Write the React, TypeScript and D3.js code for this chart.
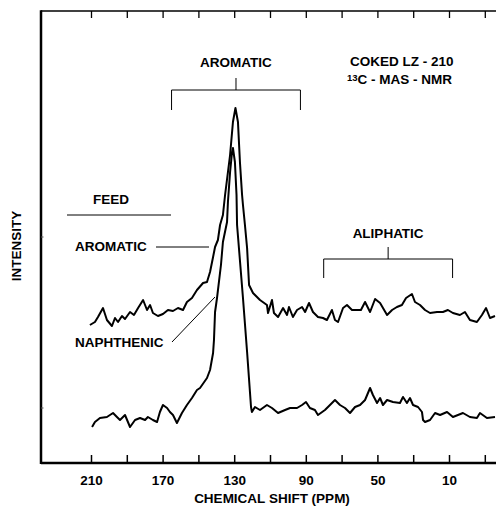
import React, { useEffect, useRef } from "react";
import * as d3 from "d3";

// chemical shift (ppm) and intensity (arbitrary units)
const feedShift = [210.6, 207.8, 206.1, 203.3, 201.1, 198.3, 196.6, 194.9, 192.7, 191.0, 188.2, 186.0, 183.7, 180.9, 178.7, 177.0, 175.4, 172.6, 169.8, 167.0, 164.2, 161.4, 158.6, 156.4, 153.6, 150.8, 147.4, 145.2, 143.5, 141.8, 140.7, 139.1, 137.9, 136.3, 135.1, 132.3, 130.7, 129.3, 127.9, 126.8, 125.6, 125.1, 124.0, 122.8, 121.7, 119.5, 115.6, 111.7, 111.1, 108.9, 107.8, 105.5, 102.7, 100.5, 99.4, 97.2, 94.9, 92.1, 90.4, 88.2, 86.0, 83.2, 80.4, 78.2, 75.4, 73.7, 72.0, 69.2, 67.0, 64.2, 61.4, 59.2, 56.9, 54.1, 51.3, 48.5, 44.6, 41.8, 39.1, 36.3, 34.0, 30.7, 29.0, 26.2, 23.4, 20.6, 16.7, 13.4, 10.6, 7.8, 3.9, 1.1, -1.7, -5.6, -8.4, -10.7, -12.9, -15.7];
const feedIntensity = [138, 141, 146, 155, 143, 137, 145, 141, 147, 144, 151, 148, 155, 163, 153, 158, 150, 147, 149, 153, 152, 155, 153, 161, 165, 173, 180, 181, 191, 206, 216, 223, 238, 248, 268, 308, 341, 355, 341, 301, 268, 258, 238, 215, 178, 170, 163, 158, 150, 163, 150, 146, 155, 148, 156, 146, 153, 156, 151, 160, 151, 146, 145, 143, 153, 143, 141, 155, 158, 153, 153, 153, 161, 151, 164, 160, 148, 153, 156, 158, 165, 169, 161, 158, 153, 150, 151, 151, 153, 150, 148, 151, 143, 141, 148, 155, 145, 147];

const cokedShift = [209.4, 207.8, 205.0, 201.1, 197.7, 195.5, 193.8, 191.0, 188.2, 185.4, 182.6, 179.8, 178.2, 175.4, 173.1, 171.5, 169.8, 167.5, 165.9, 164.2, 162.0, 159.2, 156.4, 153.6, 150.8, 149.1, 145.2, 143.5, 141.8, 141.3, 140.7, 139.6, 137.4, 136.3, 134.0, 133.5, 132.3, 131.2, 130.7, 129.6, 128.7, 128.4, 125.1, 122.8, 121.2, 120.6, 120.1, 118.4, 115.6, 111.7, 108.9, 105.5, 101.6, 98.8, 94.9, 92.1, 89.9, 87.7, 84.9, 83.2, 79.3, 76.5, 73.7, 70.9, 68.1, 65.3, 62.5, 59.7, 56.9, 54.1, 52.5, 50.2, 48.5, 46.9, 44.6, 41.3, 37.4, 35.7, 33.5, 31.8, 30.1, 27.3, 25.1, 24.5, 23.4, 20.6, 17.8, 15.0, 11.1, 7.8, 5.0, 2.2, -1.7, -5.6, -7.3, -11.2, -15.7];
const cokedIntensity = [36, 41, 45, 46, 50, 46, 43, 48, 36, 43, 45, 43, 46, 43, 41, 51, 58, 55, 51, 48, 40, 50, 58, 65, 73, 75, 85, 93, 110, 123, 151, 165, 198, 221, 241, 261, 291, 311, 315, 301, 268, 238, 165, 111, 71, 56, 51, 56, 53, 58, 55, 50, 53, 55, 55, 58, 61, 55, 53, 48, 53, 58, 63, 58, 55, 50, 56, 58, 63, 75, 68, 60, 65, 58, 63, 61, 60, 66, 60, 65, 58, 56, 51, 43, 41, 43, 50, 48, 51, 46, 48, 50, 46, 45, 50, 45, 46];

const tickValues = [210, 190, 170, 150, 130, 110, 90, 70, 50, 30, 10, -10];
const tickLabels = ["210", "170", "130", "90", "50", "10"];

// bracket spans (ppm)
const aromaticSpan = [165, 93];
const aliphaticSpan = [80, 8];

const FONT = "'Liberation Sans', Arial, Helvetica, sans-serif";
const SIZE = "13.5px";

const App = () => {
  const ref = useRef(null);

  useEffect(() => {
    d3.select(ref.current).selectAll("*").remove();

    const width = 496;
    const height = 506;
    const left = 41;
    const top = 11;
    const bottom = 463;

    const x = d3.scaleLinear().domain([210, 10]).range([91, 449]);
    const y = d3.scaleLinear().domain([0, 452]).range([bottom, top]);

    const svg = d3
      .select(ref.current)
      .attr("width", width)
      .attr("height", height)
      .style("position", "absolute")
      .style("left", "0px")
      .style("top", "0px")
      .style("background", "#fff");

    // bottom axis
    const bottomAxis = d3
      .axisBottom(x)
      .tickValues(tickValues)
      .tickSize(-8)
      .tickPadding(12)
      .tickFormat((d) => (tickLabels.includes(String(d)) ? String(d) : ""));
    const gb = svg.append("g").attr("transform", `translate(0,${bottom})`).call(bottomAxis);
    gb.select(".domain").remove();
    gb.selectAll(".tick line").attr("stroke", "#000").attr("stroke-width", 1.5);
    gb.selectAll(".tick text")
      .attr("fill", "#000")
      .style("font-family", FONT)
      .style("font-size", SIZE)
      .style("font-weight", "bold");

    // top axis, ticks only
    const topAxis = d3.axisTop(x).tickValues(tickValues).tickSize(-7).tickFormat(() => "");
    const gt = svg.append("g").attr("transform", `translate(0,${top})`).call(topAxis);
    gt.select(".domain").remove();
    gt.selectAll(".tick line").attr("stroke", "#000").attr("stroke-width", 1.3);

    // frame
    svg.append("line").attr("x1", left).attr("x2", width).attr("y1", top).attr("y2", top)
      .attr("stroke", "#000").attr("stroke-width", 1.5);
    svg.append("line").attr("x1", left).attr("x2", width).attr("y1", bottom).attr("y2", bottom)
      .attr("stroke", "#000").attr("stroke-width", 2.5);
    svg.append("line").attr("x1", left).attr("x2", left).attr("y1", top - 0.75).attr("y2", bottom + 1)
      .attr("stroke", "#000").attr("stroke-width", 2.5);
    [237, 408].forEach((ty) => {
      svg.append("line").attr("x1", left).attr("x2", left + 2.5).attr("y1", ty).attr("y2", ty)
        .attr("stroke", "#555").attr("stroke-width", 1);
    });

    // spectra
    const line = d3
      .line()
      .x((d) => x(d[0]))
      .y((d) => y(d[1]))
      .curve(d3.curveLinear);

    const feed = feedShift.map((s, i) => [s, feedIntensity[i]]);
    const coked = cokedShift.map((s, i) => [s, cokedIntensity[i]]);

    [feed, coked].forEach((data) => {
      svg.append("path")
        .datum(data)
        .attr("d", line)
        .attr("fill", "none")
        .attr("stroke", "#000")
        .attr("stroke-width", 2)
        .attr("stroke-linejoin", "round");
    });

    const text = (tx, ty, str, anchor = "start", rotate = 0) =>
      svg.append("text")
        .attr("x", tx)
        .attr("y", ty)
        .attr("text-anchor", anchor)
        .attr("transform", rotate ? `rotate(${rotate},${tx},${ty})` : null)
        .style("font-family", FONT)
        .style("font-size", SIZE)
        .style("font-weight", "bold")
        .attr("fill", "#000")
        .text(str);

    const thin = (x1, y1, x2, y2) =>
      svg.append("line").attr("x1", x1).attr("y1", y1).attr("x2", x2).attr("y2", y2)
        .attr("stroke", "#000").attr("stroke-width", 1);

    // brackets
    const bracket = (span, yBar, yEnd, yStem, label, yLabel) => {
      const x0 = x(span[0]);
      const x1 = x(span[1]);
      const xm = (x0 + x1) / 2;
      thin(x0, yEnd, x0, yBar);
      thin(x0, yBar, x1, yBar);
      thin(x1, yBar, x1, yEnd);
      thin(xm, yBar, xm, yStem);
      text(xm, yLabel, label, "middle");
    };
    bracket(aromaticSpan, 90, 110, 78, "AROMATIC", 67);
    bracket(aliphaticSpan, 259, 278, 247, "ALIPHATIC", 238);

    // title
    text(350, 66, "COKED LZ - 210");
    const t2 = svg.append("text")
      .attr("x", 347)
      .attr("y", 84)
      .style("font-family", FONT)
      .style("font-size", SIZE)
      .style("font-weight", "bold")
      .attr("fill", "#000");
    t2.append("tspan").attr("dy", -3).style("font-size", "9.5px").text("13");
    t2.append("tspan").attr("dy", 3).text("C - MAS - NMR");

    // left labels
    text(93, 204, "FEED");
    thin(67, 215, 171, 215);
    text(75, 251, "AROMATIC");
    thin(156, 247, 209, 247);
    text(75, 347, "NAPHTHENIC");
    thin(172, 342, 215, 297);

    // axis titles
    text(272, 503, "CHEMICAL SHIFT (PPM)", "middle");
    text(21, 246, "INTENSITY", "middle", -90);

    return () => {
      // eslint-disable-next-line
      d3.select(ref.current).selectAll("*").remove();
    };
  }, []);

  return <svg ref={ref}></svg>;
};

export default App;
